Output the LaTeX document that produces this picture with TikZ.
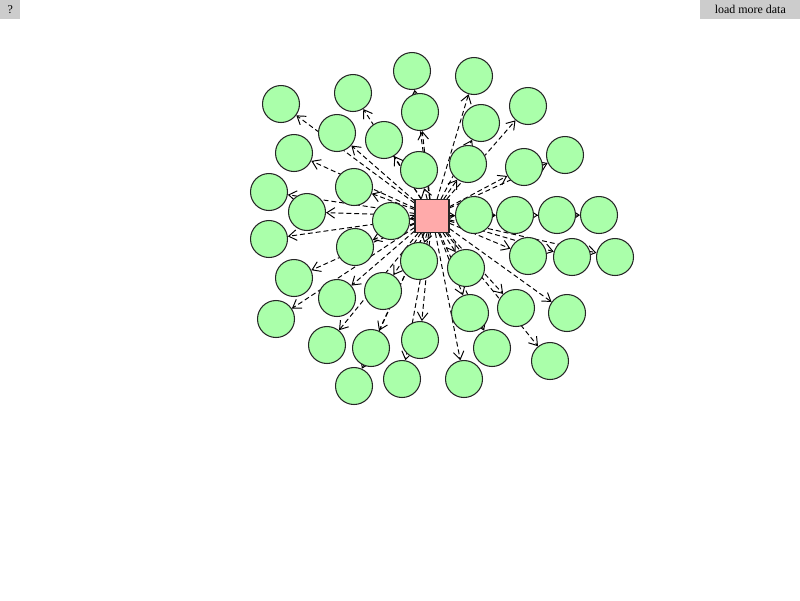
\documentclass[tikz,border=0pt]{standalone}
\usepackage{fontspec}
\setmainfont{Liberation Serif}
\usetikzlibrary{arrows.meta, backgrounds}
\definecolor{leafgreen}{RGB}{170,255,170}
\definecolor{hubpink}{RGB}{255,170,170}
\definecolor{buttongray}{RGB}{204,204,204}

\begin{document}
\begin{tikzpicture}[x=0.02cm, y=-0.02cm,
    leaf/.style={circle, draw=black!85, fill=leafgreen, line width=0.6pt,
      minimum size=0.74cm, inner sep=0pt},
    hub/.style={rectangle, draw=black!85, fill=hubpink, line width=0.6pt,
      minimum width=0.68cm, minimum height=0.66cm, inner sep=0pt},
    link/.style={line width=0.55pt, dash pattern=on 2.8pt off 1.7pt,
      -{Straight Barb[length=4.5pt, width=6pt]}},
    button/.style={fill=buttongray, inner sep=0pt, anchor=north west,
      font=\fontsize{6.8}{8}\selectfont}]
  \useasboundingbox (0,0) rectangle (800,600);
  % Buttons in the corners.
  \node[button, minimum width=0.4cm, minimum height=0.38cm] (help) at (0,0) {?};
  \node[button, minimum width=2cm, minimum height=0.38cm] (more) at (700,0) {load more data};
  % Centre node and its leaves.
  \node[hub] (hub) at (432,216) {};
  \foreach \px/\py [count=\i] in {412/71, 474/76, 281/104, 353/93, 528/106,
      420/112, 481/123, 337/133, 384/140, 294/153, 565/155, 419/170,
      468/164, 524/167, 354/187, 269/192, 307/212, 391/221, 474/215,
      515/215, 557/215, 599/215, 269/239, 355/247, 528/256, 572/257,
      615/257, 419/261, 466/268, 294/278, 337/298, 383/291, 516/308,
      470/313, 567/313, 276/319, 420/340, 327/345, 371/348, 492/348,
      550/361, 402/379, 354/386, 464/379}
    \node[leaf] (n\i) at (\px,\py) {};
  % Links behind the nodes.
  \begin{scope}[on background layer]
    \foreach \i in {1,...,44}
      \draw[link] (hub) -- (n\i);
  \end{scope}
\end{tikzpicture}
\end{document}
